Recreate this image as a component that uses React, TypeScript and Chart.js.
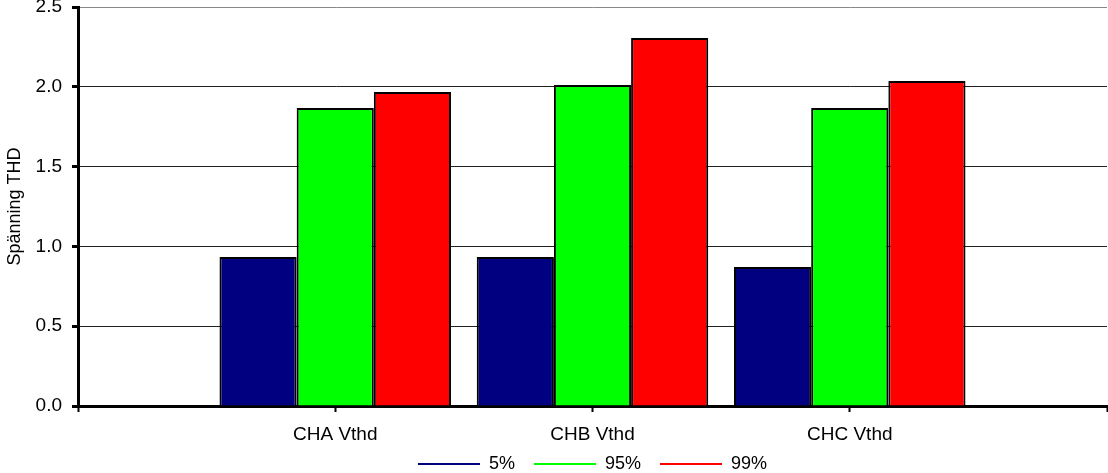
import React, { useEffect, useRef } from "react";
import { Chart, registerables } from "chart.js";

Chart.register(...registerables);

const categories = ["", "CHA Vthd", "CHB Vthd", "CHC Vthd", ""];
const series5 = [null, 0.934, 0.934, 0.871, null];
const series95 = [null, 1.867, 2.011, 1.867, null];
const series99 = [null, 1.967, 2.306, 2.036, null];
const seriesNames = ["5%", "95%", "99%"];
const seriesColors = ["#000080", "#00ff00", "#ff0000"];
const yTicks = [0, 0.5, 1.0, 1.5, 2.0, 2.5];
const yTitle = "Spänning THD";

const FONT = "'Liberation Sans', Arial, sans-serif";

export default function App() {
  const ref = useRef<HTMLCanvasElement | null>(null);
  useEffect(() => {
    if (!ref.current) return;
    const values = [series5, series95, series99];
    const chart = new Chart(ref.current, {
      type: "bar",
      data: {
        labels: categories,
        datasets: values.map((v, i) => ({
          label: seriesNames[i],
          data: v as any,
          backgroundColor: seriesColors[i],
          borderColor: "#000000",
          borderWidth: 2,
          categoryPercentage: 0.9,
          barPercentage: 1.0,
        })),
      },
      options: {
        responsive: false,
        animation: false,
        devicePixelRatio: 1,
        layout: { padding: { top: 7, right: 1, left: 0, bottom: -10 } },
        plugins: {
          tooltip: { enabled: false },
          legend: {
            position: "bottom",
            fullSize: false,
            title: {
              display: true,
              text: "",
              font: { size: 1, lineHeight: 1 },
              padding: { top: -15, bottom: 0 },
            },
            labels: {
              font: { family: FONT, size: 18 },
              color: "#000",
              boxWidth: 62,
              boxHeight: 2,
              padding: 19,
              generateLabels: (c: any) =>
                c.data.datasets.map((d: any, i: number) => ({
                  text: d.label,
                  fillStyle: seriesColors[i],
                  strokeStyle: seriesColors[i],
                  lineWidth: 0,
                  fontColor: "#000",
                  datasetIndex: i,
                  hidden: false,
                })),
            },
          },
        },
        scales: {
          x: {
            type: "category",
            offset: false,
            grid: {
              offset: false,
              drawOnChartArea: false,
              drawTicks: true,
              tickLength: 6,
              tickWidth: 2,
              tickColor: "#000",
            },
            border: { color: "#000", width: 3 },
            ticks: {
              font: { family: FONT, size: 19 },
              color: "#000",
              padding: 11,
              maxRotation: 0,
              autoSkip: false,
            },
            afterFit: (s: any) => {
              s.height = 44;
              s.paddingLeft = 0;
              s.paddingRight = 0;
            },
          },
          y: {
            min: 0,
            max: 2.5,
            afterBuildTicks: (s: any) => {
              s.ticks = yTicks.map((v) => ({ value: v }));
            },
            grid: {
              color: (ctx: any) => (ctx.tick && ctx.tick.value === 2.5 ? "#888888" : "#222222"),
              lineWidth: 1,
              drawTicks: true,
              tickLength: 6,
              tickWidth: 3,
              tickColor: "#000",
            },
            border: { color: "#000", width: 3 },
            ticks: {
              font: { family: FONT, size: 19 },
              color: "#000",
              padding: 10,
              callback: (v: any) => Number(v).toFixed(1),
            },
            title: {
              display: true,
              text: yTitle,
              font: { family: FONT, size: 18 },
              color: "#000",
              padding: 4,
            },
            afterFit: (s: any) => {
              s.width = 78;
              s.paddingTop = 0;
              s.paddingBottom = 0;
            },
          },
        },
      },
    });
    return () => chart.destroy();
  }, []);
  return (
    <div style={{ position: "absolute", left: 0, top: 0, width: 1108, height: 473, background: "#fff" }}>
      <canvas ref={ref} width={1108} height={473} style={{ display: "block" }} />
    </div>
  );
}
